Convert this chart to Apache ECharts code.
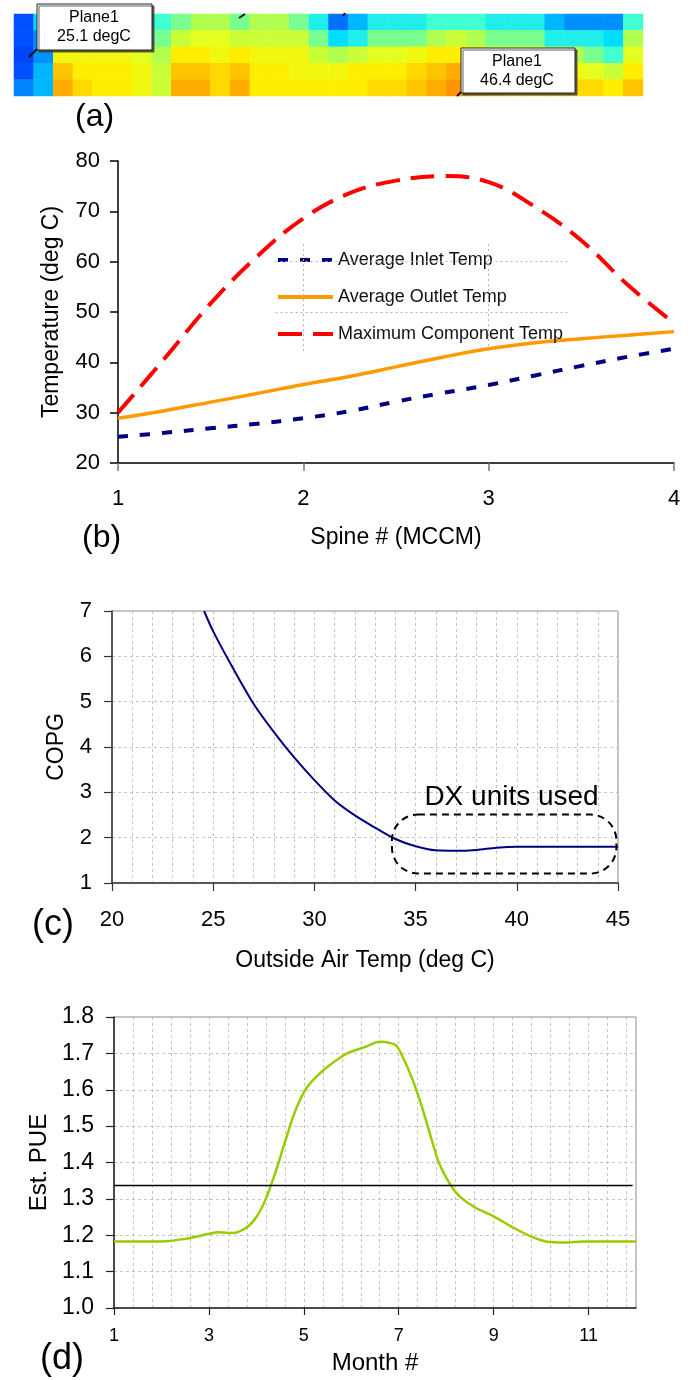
<!DOCTYPE html>
<html><head><meta charset="utf-8">
<script src="https://cdn.jsdelivr.net/npm/echarts@6/dist/echarts.min.js"></script>
<style>html,body{margin:0;padding:0;background:#fff}#c{width:691px;height:1380px}</style>
</head><body><div id="c"></div>
<script>
// ---------- (a) thermal map (values on a 0..10 colour scale, rows top->bottom)
const heatRow0 = [1,3,4.5,5,5,5,4.5,4,4.5,5,5,4.5,5,5,4.5,3.5,1.5,2.5,3.5,3.5,3.5,4,4,4,3.5,3.5,3.5,2.5,2,2,2,4];
const heatRow1 = [1,2,5,6,6,5.5,5,4.5,5.5,6,6,5.5,5.5,5.5,5.5,4.5,3,3.5,4.5,4.5,4.5,5,5.5,5,4.5,4.5,4.5,3.5,3.5,3.5,3,5];
const heatRow2 = [0.8,2,6.5,6.5,6.5,6.5,6,5,7,7,6.5,7,6.5,6.5,6.5,5.5,5,5.5,6,6,6.5,7,7,6.5,6,6,6,5,5,4.5,4,6];
const heatRow3 = [1,2.5,8,7,7,7,6.5,5.5,8,8,7.5,8,7,7,6.5,6.5,6.5,7,7,7,7.5,8,8.5,7.5,7,7,7,6.5,6.5,6,5.5,7];
const heatRow4 = [1.8,2.5,8.5,7.5,7,7,6.5,5.5,8.5,8.5,7.5,8.5,7,7,7,7,7,7,7.5,7.5,8,8.5,9,8.5,8,7.5,7.5,7.5,7.5,7.5,7,8];
const heatRows = [heatRow0, heatRow1, heatRow2, heatRow3, heatRow4];
const heatColors = ['#0020E0','#0050FF','#0090FF','#00DDFF','#40FFD0','#B0FF50','#E4FF20','#FFEE00','#FFC400','#FF9400','#FF5000'];
const probeLabels = [['Plane1','25.1 degC'],['Plane1','46.4 degC']];

// ---------- (b) temperatures along spine
const spineX = [1, 1.25, 1.5, 1.75, 2, 2.25, 2.5, 2.75, 3, 3.25, 3.5, 3.75, 4];
const inletTemp = [25.2, 26.0, 26.9, 27.8, 28.9, 30.3, 32.2, 33.9, 35.5, 37.4, 39.3, 41.1, 42.7];
const outletTemp = [28.9, 30.4, 32.1, 33.8, 35.6, 37.2, 39.1, 41.0, 42.7, 43.9, 44.7, 45.4, 46.1];
const maxCompTemp = [30.0, 40.7, 51.7, 61.0, 68.6, 73.6, 76.1, 77.0, 75.8, 70.9, 64.2, 55.4, 47.8];
const seriesNamesB = ['Average Inlet Temp', 'Average Outlet Temp', 'Maximum Component Temp'];

// ---------- (c) COPG vs outside air temp
const oatX = [24.55, 25, 26, 27, 28, 29, 30, 31, 32, 33, 34, 35, 36, 37, 38, 39, 40, 45];
const copg = [7.0, 6.55, 5.72, 4.95, 4.33, 3.77, 3.27, 2.82, 2.49, 2.22, 1.97, 1.81, 1.72, 1.71, 1.73, 1.78, 1.80, 1.80];
const dxBox = [[33.83, 2.51], [44.92, 1.21]];
const dxTextAt = [39.74, 2.88];

// ---------- (d) estimated PUE by month
const monthX = [1.0,1.5,2.0,2.5,3.0,3.2,3.5,3.8,4.0,4.2,4.4,4.6,4.8,5.0,5.2,5.5,5.9,6.3,6.6,6.8,6.95,7.1,7.3,7.5,7.7,7.85,8.1,8.3,8.6,9.0,9.4,9.8,10.1,10.5,10.9,12.0];
const pue = [1.183,1.183,1.183,1.190,1.204,1.208,1.206,1.222,1.250,1.300,1.372,1.455,1.535,1.593,1.627,1.663,1.699,1.718,1.732,1.729,1.721,1.686,1.625,1.548,1.460,1.398,1.336,1.305,1.277,1.252,1.222,1.196,1.183,1.180,1.183,1.183];
const avgPueX = [1, 11.93];
const avgPue = [1.337, 1.337];
const monthTicks = [1, 3, 5, 7, 9, 11];

const FONT = "'Liberation Sans', Arial, sans-serif";
const zip = (xs, ys) => xs.map((x, i) => [x, ys[i]]);

const heatData = [];
heatRows.forEach((row, r) => row.forEach((v, c) => heatData.push([c, r, v])));

const chart = echarts.init(document.getElementById('c'), null, {renderer: 'canvas', width: 691, height: 1380});

const lbl = (size, margin, extra) => Object.assign({fontSize: size, fontFamily: FONT, color: '#000', margin: margin}, extra || {});
const nameStyle = (size) => ({fontSize: size, fontFamily: FONT, color: '#000'});
const gridDash = {color: '#c4c4c4', width: 1, type: [3, 3]};

const option = {
  animation: false,
  backgroundColor: '#fff',
  grid: [
    {left: 14, top: 14, width: 629, height: 82},
    {left: 118, top: 161, width: 556, height: 302},
    {left: 112, top: 611, width: 506, height: 272, show: true, borderColor: '#8c8c8c', borderWidth: 1},
    {left: 114, top: 1017, width: 522, height: 291, show: true, borderColor: '#8c8c8c', borderWidth: 1}
  ],
  visualMap: {type: 'continuous', min: 0, max: 10, seriesIndex: 0, show: false, inRange: {color: heatColors}},
  xAxis: [
    {type: 'category', gridIndex: 0, data: heatRow0.map((_, i) => i), show: false},
    {type: 'value', gridIndex: 1, min: 1, max: 4, interval: 1,
      axisLine: {lineStyle: {color: '#000', width: 1.5}},
      axisTick: {show: true, length: 8, lineStyle: {color: '#777', width: 1.5}},
      axisLabel: lbl(22, 25), splitLine: {show: false},
      name: 'Spine # (MCCM)', nameLocation: 'middle', nameGap: 63, nameTextStyle: nameStyle(23)},
    {type: 'value', gridIndex: 2, min: 20, max: 45, interval: 5,
      axisLine: {onZero: false, lineStyle: {color: '#333', width: 1.5}},
      axisTick: {show: true, length: 8, lineStyle: {color: '#333', width: 1.2}},
      minorTick: {show: false, splitNumber: 5},
      axisLabel: lbl(22, 26),
      splitLine: {show: true, lineStyle: gridDash},
      minorSplitLine: {show: true, lineStyle: gridDash},
      name: 'Outside Air Temp (deg C)', nameLocation: 'middle', nameGap: 66, nameTextStyle: nameStyle(23)},
    {type: 'value', gridIndex: 3, min: 1, max: 12,
      axisLine: {onZero: false, lineStyle: {color: '#222', width: 1.5}},
      axisTick: {show: true, length: 7, customValues: monthTicks, lineStyle: {color: '#222', width: 1.2}},
      axisLabel: lbl(18, 19, {customValues: monthTicks}),
      splitLine: {show: false},
      name: 'Month #', nameLocation: 'middle', nameGap: 43, nameTextStyle: nameStyle(24)},
    {type: 'value', gridIndex: 3, min: 0, max: 11, interval: 0.4, position: 'top',
      axisLine: {show: false}, axisTick: {show: false}, axisLabel: {show: false},
      splitLine: {show: true, lineStyle: gridDash}}
  ],
  yAxis: [
    {type: 'category', gridIndex: 0, data: heatRows.map((_, i) => i), inverse: true, show: false},
    {type: 'value', gridIndex: 1, min: 20, max: 80, interval: 10,
      axisLine: {show: true, lineStyle: {color: '#000', width: 1.5}},
      axisTick: {show: true, length: 8, lineStyle: {color: '#000', width: 1.5}},
      axisLabel: lbl(22, 18), splitLine: {show: false},
      name: 'Temperature (deg C)', nameLocation: 'middle', nameGap: 55, nameTextStyle: nameStyle(23)},
    {type: 'value', gridIndex: 2, min: 1, max: 7, interval: 1,
      axisLine: {show: true, onZero: false, lineStyle: {color: '#333', width: 1.5}},
      axisTick: {show: true, length: 8, lineStyle: {color: '#333', width: 1.2}},
      axisLabel: lbl(22, 20),
      splitLine: {show: true, lineStyle: gridDash},
      name: 'COPG', nameLocation: 'middle', nameGap: 44, nameTextStyle: nameStyle(23)},
    {type: 'value', gridIndex: 3, min: 1.0, max: 1.8, interval: 0.1,
      axisLine: {show: true, onZero: false, lineStyle: {color: '#222', width: 1.5}},
      axisTick: {show: true, length: 8, lineStyle: {color: '#222', width: 1.2}},
      axisLabel: lbl(23, 20, {formatter: v => Number(v).toFixed(1)}),
      splitLine: {show: true, lineStyle: gridDash},
      name: 'Est. PUE', nameLocation: 'middle', nameGap: 59, nameTextStyle: nameStyle(24)}
  ],
  legend: {
    data: seriesNamesB, orient: 'vertical', left: 276, top: 251, padding: 0,
    itemWidth: 55, itemHeight: 18, itemGap: 19,
    itemStyle: {opacity: 0},
    lineStyle: {width: 4},
    textStyle: {fontSize: 18, fontFamily: FONT, color: '#111', lineHeight: 18}
  },
  series: [
    {type: 'heatmap', xAxisIndex: 0, yAxisIndex: 0, data: heatData, itemStyle: {borderWidth: 0}},
    {type: 'line', name: seriesNamesB[0], xAxisIndex: 1, yAxisIndex: 1, data: zip(spineX, inletTemp),
      smooth: 0.4, showSymbol: false, symbol: 'circle', lineStyle: {color: '#000080', width: 4, type: [10, 12]},
      itemStyle: {color: '#000080'},
      markLine: {silent: true, symbol: ['none', 'none'], label: {show: false},
        lineStyle: {color: '#b4b4b4', width: 1, type: [2, 3]},
        data: [
          [{coord: [2, 63.5]}, {coord: [2, 42]}],
          [{coord: [3, 63.5]}, {coord: [3, 42]}],
          [{coord: [1.85, 60]}, {coord: [3.43, 60]}],
          [{coord: [1.85, 50]}, {coord: [3.43, 50]}]
        ]}},
    {type: 'line', name: seriesNamesB[1], xAxisIndex: 1, yAxisIndex: 1, data: zip(spineX, outletTemp),
      smooth: 0.4, showSymbol: false, symbol: 'circle', lineStyle: {color: '#FF9900', width: 3.5, type: 'solid'},
      itemStyle: {color: '#FF9900'}},
    {type: 'line', name: seriesNamesB[2], xAxisIndex: 1, yAxisIndex: 1, data: zip(spineX, maxCompTemp),
      smooth: 0.4, showSymbol: false, symbol: 'circle', lineStyle: {color: '#FF0000', width: 4, type: [24, 11]},
      itemStyle: {color: '#FF0000'}},
    {type: 'line', name: 'COPG', xAxisIndex: 2, yAxisIndex: 2, data: zip(oatX, copg),
      smooth: 0.3, showSymbol: false, lineStyle: {color: '#000080', width: 2}},
    {type: 'line', name: 'PUE', xAxisIndex: 3, yAxisIndex: 3, data: zip(monthX, pue),
      smooth: 0.3, showSymbol: false, lineStyle: {color: '#99CC00', width: 2.5}},
    {type: 'line', name: 'Average PUE', xAxisIndex: 3, yAxisIndex: 3, data: zip(avgPueX, avgPue),
      showSymbol: false, lineStyle: {color: '#000', width: 1.5}}
  ]
};
chart.setOption(option);

// ---------- annotations
const p0 = chart.convertToPixel({gridIndex: 2}, dxBox[0]);
const p1 = chart.convertToPixel({gridIndex: 2}, dxBox[1]);
const pt = chart.convertToPixel({gridIndex: 2}, dxTextAt);
const txt = (x, y, s, size, align) => ({type: 'text', x: x, y: y, z: 100,
  style: {text: s, fontSize: size, fontFamily: FONT, fill: '#000', align: align || 'center', verticalAlign: 'middle'}});
const box = (x, y, w, h) => ({type: 'rect', z: 90, shape: {x: x, y: y, width: w, height: h},
  style: {fill: '#fff', stroke: '#222', lineWidth: 1, shadowColor: 'rgba(60,60,60,0.8)', shadowOffsetX: 2, shadowOffsetY: 2, shadowBlur: 0}});
const seg = (x1, y1, x2, y2) => ({type: 'line', z: 95, shape: {x1: x1, y1: y1, x2: x2, y2: y2}, style: {stroke: '#111', lineWidth: 2}});

chart.setOption({
  graphic: [
    seg(29, 57, 37, 49), seg(457, 96, 461, 92), seg(239, 18, 245, 14), seg(343, 16, 345, 13),
    box(37, 4, 115, 46), txt(94, 18, probeLabels[0][0], 16), txt(94, 37, probeLabels[0][1], 16),
    box(461, 48, 114, 45), txt(517, 62, probeLabels[1][0], 16), txt(517, 81, probeLabels[1][1], 16),
    txt(75, 117, '(a)', 32, 'left'),
    txt(82, 538, '(b)', 32, 'left'),
    txt(32, 925, '(c)', 36, 'left'),
    txt(40, 1359, '(d)', 36, 'left'),
    {type: 'rect', z: 80, shape: {x: p0[0], y: p0[1], width: p1[0] - p0[0], height: p1[1] - p0[1], r: 26},
      style: {fill: 'none', stroke: '#000', lineWidth: 2, lineDash: [7, 5]}},
    txt(pt[0], pt[1], 'DX units used', 28)
  ]
});
</script>
</body></html>
